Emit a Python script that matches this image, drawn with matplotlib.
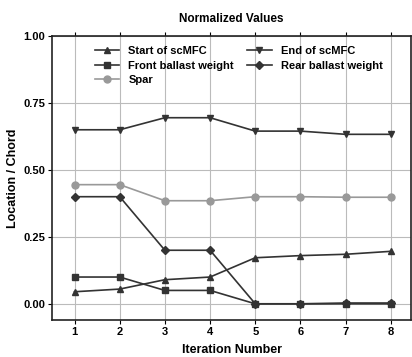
import matplotlib.pyplot as plt
import numpy as np

plt.rcParams['font.family'] = ['Liberation Sans', 'DejaVu Sans']
plt.rcParams['font.weight'] = 'bold'

iterations = [1, 2, 3, 4, 5, 6, 7, 8]
start_scmfc = [0.045, 0.055, 0.09, 0.10, 0.172, 0.18, 0.185, 0.196]
end_scmfc = [0.65, 0.65, 0.695, 0.695, 0.645, 0.645, 0.633, 0.633]
front_ballast = [0.10, 0.10, 0.05, 0.05, 0.0, 0.0, 0.0, 0.0]
rear_ballast = [0.40, 0.40, 0.20, 0.20, 0.0, 0.0, 0.003, 0.003]
spar = [0.445, 0.445, 0.385, 0.385, 0.40, 0.40, 0.398, 0.398]

fig = plt.figure(figsize=(4.12, 3.57), dpi=100)
ax = fig.add_axes([0.126, 0.104, 0.872, 0.795])

dark = '#333333'
l1, = ax.plot(iterations, start_scmfc, '-^', color=dark, lw=1.2, ms=5, label='Start of scMFC')
l2, = ax.plot(iterations, end_scmfc, '-v', color=dark, lw=1.2, ms=5, label='End of scMFC')
l3, = ax.plot(iterations, front_ballast, '-s', color=dark, lw=1.2, ms=4.5, label='Front ballast weight')
l4, = ax.plot(iterations, rear_ballast, '-D', color=dark, lw=1.2, ms=4.5, label='Rear ballast weight')
l5, = ax.plot(iterations, spar, '-o', color='#999999', lw=1.2, ms=5, label='Spar')

ax.set_xlim(0.5, 8.45)
ax.set_ylim(-0.06, 1.0)
ax.set_xticks(iterations)
ax.set_yticks([0.0, 0.25, 0.5, 0.75, 1.0])
ax.set_yticklabels(['0.00', '0.25', '0.50', '0.75', '1.00'])
ax.grid(True, color='#bbbbbb', lw=0.8)
ax.tick_params(labelsize=8, direction='out', top=True, length=3, pad=2)
for s in ax.spines.values():
    s.set_color('#222222')
    s.set_linewidth(1.2)

ax.set_title('Normalized Values', fontsize=8.5, fontweight='bold', pad=10)
ax.set_xlabel('Iteration Number', fontsize=9, fontweight='bold', labelpad=5)
ax.set_ylabel('Location / Chord', fontsize=9, fontweight='bold', labelpad=3)

# row-wise legend order: Start/End, Front/Rear, Spar
handles = [l1, l3, l5, l2, l4]
ax.legend(handles, [h.get_label() for h in handles],
          loc='upper center', bbox_to_anchor=(0.52, 1.0), ncol=2, frameon=False,
          handlelength=2.2, columnspacing=1.2, labelspacing=0.4,
          prop={'weight': 'bold', 'size': 8})

fig.savefig('out.png', dpi=100)
